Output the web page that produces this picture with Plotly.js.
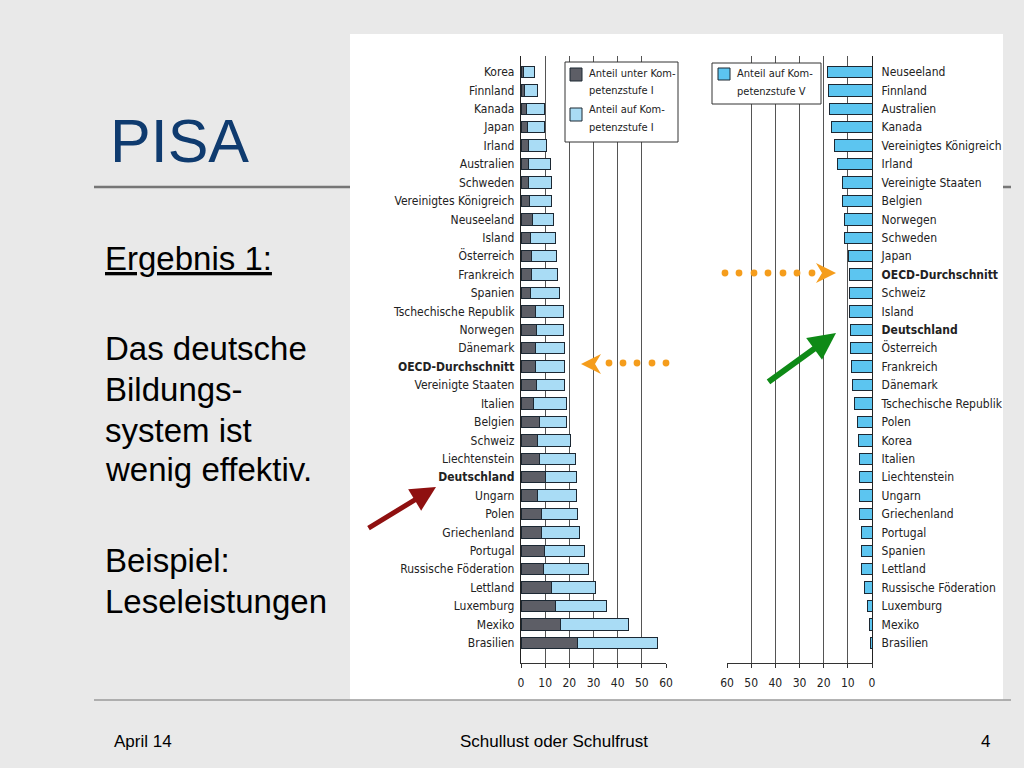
<!DOCTYPE html>
<html>
<head>
<meta charset="utf-8">
<script src="https://cdn.plot.ly/plotly-3.0.1.min.js"></script>
<style>html,body{margin:0;padding:0;background:#e9e9e9;}#chart{width:1024px;height:768px;}</style>
</head>
<body>
<div id="chart"></div>
<script>
// ---- Data (PISA 2000, Lesekompetenz) ----
var countriesLeft = ["Korea","Finnland","Kanada","Japan","Irland","Australien","Schweden","Vereinigtes Königreich","Neuseeland","Island","Österreich","Frankreich","Spanien","Tschechische Republik","Norwegen","Dänemark","OECD-Durchschnitt","Vereinigte Staaten","Italien","Belgien","Schweiz","Liechtenstein","Deutschland","Ungarn","Polen","Griechenland","Portugal","Russische Föderation","Lettland","Luxemburg","Mexiko","Brasilien"];
var unterStufe1 = [0.9,1.4,2.3,2.5,2.9,3.2,3.2,3.6,4.6,3.9,4.2,4.3,3.9,6.2,6.3,5.8,6.2,6.5,5.3,7.5,6.8,7.5,10.0,6.7,8.6,8.6,9.6,9.2,12.5,14.2,16.3,23.5];
var aufStufe1   = [4.8,5.3,7.3,7.4,7.8,9.0,9.3,8.9,9.0,10.4,10.5,10.8,12.2,11.3,11.3,12.1,11.7,11.4,13.7,11.5,13.8,14.9,12.8,16.1,14.7,15.8,16.7,18.6,18.2,21.1,28.1,32.8];

var countriesRight = ["Neuseeland","Finnland","Australien","Kanada","Vereinigtes Königreich","Irland","Vereinigte Staaten","Belgien","Norwegen","Schweden","Japan","OECD-Durchschnitt","Schweiz","Island","Deutschland","Österreich","Frankreich","Dänemark","Tschechische Republik","Polen","Korea","Italien","Liechtenstein","Ungarn","Griechenland","Portugal","Spanien","Lettland","Russische Föderation","Luxemburg","Mexiko","Brasilien"];
var aufStufe5 = [18.6,18.2,17.4,16.6,15.5,14.2,12.2,12.1,11.3,11.3,9.9,9.5,9.2,9.2,8.9,8.8,8.5,8.1,7.2,6.0,5.7,5.3,5.0,5.0,5.0,4.3,4.2,4.2,3.2,1.8,1.0,0.7];

var boldLabels = ["OECD-Durchschnitt","Deutschland"];
var xTicks = [0,10,20,30,40,50,60];

var legendLeft = ["Anteil unter Kom-","petenzstufe I","Anteil auf Kom-","petenzstufe I"];
var legendRight = ["Anteil auf Kom-","petenzstufe V"];

// ---- helpers (pixel -> paper) ----
function P(x){return x/1024;}
function Q(y){return 1-y/768;}
function lab(c){return boldLabels.indexOf(c)>=0 ? "<b>"+c+"</b>" : c;}

var NARROW = "DejaVu Sans Condensed, Liberation Sans Narrow, sans-serif";
var SANS = "Liberation Sans, Arial, Helvetica, sans-serif";
var OUT = "#1c2833";
var DARK = "#5d5e66", LIGHT = "#a9dcf5", BLUE = "#5cc5f0";

var traces = [
  {type:"bar", orientation:"h", y:countriesLeft, x:unterStufe1, xaxis:"x", yaxis:"y",
   marker:{color:DARK, line:{color:OUT, width:1}}, hoverinfo:"skip"},
  {type:"bar", orientation:"h", y:countriesLeft, x:aufStufe1, xaxis:"x", yaxis:"y",
   marker:{color:LIGHT, line:{color:OUT, width:1}}, hoverinfo:"skip"},
  {type:"bar", orientation:"h", y:countriesRight, x:aufStufe5, xaxis:"x2", yaxis:"y2",
   marker:{color:BLUE, line:{color:OUT, width:1}}, hoverinfo:"skip"}
];

var yDom = [Q(663), Q(56)];
var yRange = [32.09, -0.87];
var tickFont = {family:NARROW, size:12, color:"#222"};
var xAxisCommon = {
  tickmode:"array", tickvals:xTicks, ticktext:xTicks.map(String),
  showgrid:true, gridcolor:"#555", gridwidth:1, zeroline:false,
  showline:true, linecolor:"#333", linewidth:1,
  ticks:"outside", ticklen:4, tickcolor:"#333",
  ticklabelstandoff:5,
  tickfont:{family:NARROW, size:12, color:"#222"}, fixedrange:true
};

var shapes = [];
// slide decoration
shapes.push({type:"line", xref:"paper", yref:"paper", x0:P(94), x1:P(1011), y0:Q(187), y1:Q(187), line:{color:"#767676", width:2.5}, layer:"below"});
shapes.push({type:"rect", xref:"paper", yref:"paper", x0:P(350), x1:P(1003), y0:Q(700), y1:Q(34), fillcolor:"#ffffff", line:{width:0}, layer:"below"});
shapes.push({type:"line", xref:"paper", yref:"paper", x0:P(94), x1:P(1011), y0:Q(700), y1:Q(700), line:{color:"#9a9a9a", width:1.5}, layer:"below"});
// legend boxes
shapes.push({type:"rect", xref:"paper", yref:"paper", x0:P(565), x1:P(678), y0:Q(142), y1:Q(62), fillcolor:"#ffffff", line:{color:"#333", width:1}, layer:"above"});
shapes.push({type:"rect", xref:"paper", yref:"paper", x0:P(570), x1:P(582), y0:Q(81), y1:Q(68), fillcolor:DARK, line:{color:OUT, width:1}, layer:"above"});
shapes.push({type:"rect", xref:"paper", yref:"paper", x0:P(570), x1:P(582), y0:Q(121), y1:Q(108), fillcolor:LIGHT, line:{color:OUT, width:1}, layer:"above"});
shapes.push({type:"rect", xref:"paper", yref:"paper", x0:P(712), x1:P(821), y0:Q(104), y1:Q(63), fillcolor:"#ffffff", line:{color:"#333", width:1}, layer:"above"});
shapes.push({type:"rect", xref:"paper", yref:"paper", x0:P(718), x1:P(730), y0:Q(80), y1:Q(68), fillcolor:BLUE, line:{color:OUT, width:1}, layer:"above"});

// orange dotted arrows
var ORANGE = "#f59d1c";
function dot(cx, cy){
  var r = 3.4;
  shapes.push({type:"circle", xref:"paper", yref:"paper", x0:P(cx-r), x1:P(cx+r), y0:Q(cy+r), y1:Q(cy-r), fillcolor:ORANGE, line:{width:0}, layer:"above"});
}
[609,623,637,652,666].forEach(function(x){dot(x,363);});
[725,739,754,768,783,797,812].forEach(function(x){dot(x,273);});
function pathPx(pts){
  return "M"+pts.map(function(p){return P(p[0])+","+Q(p[1]);}).join("L")+"Z";
}
shapes.push({type:"path", xref:"paper", yref:"paper", path:pathPx([[581,364],[601,354],[595,364],[601,374]]), fillcolor:ORANGE, line:{width:0}, layer:"above"});
shapes.push({type:"path", xref:"paper", yref:"paper", path:pathPx([[836,273],[816,263],[822,273],[816,283]]), fillcolor:ORANGE, line:{width:0}, layer:"above"});

var annotations = [];
function txt(t, x, y, size, opts){
  var a = {text:t, xref:"paper", yref:"paper", x:P(x), y:Q(y), xanchor:"left", yanchor:"middle", showarrow:false,
           font:{family:SANS, size:size, color:"#000"}};
  for (var k in (opts||{})) a[k]=opts[k];
  annotations.push(a);
}
txt("PISA", 108, 141, 61, {font:{family:SANS, size:61, color:"#0f3b6f"}});
txt("<u>Ergebnis 1:</u>", 103, 259, 33);
txt("Das deutsche", 103, 348, 33);
txt("Bildungs-", 103, 389, 33);
txt("system ist", 103, 430, 33);
txt("wenig effektiv.", 103, 469, 33);
txt("Beispiel:", 103, 560, 33);
txt("Leseleistungen", 103, 601, 33);
txt("April 14", 112, 741, 17);
txt("Schullust oder Schulfrust", 554, 741, 17, {xanchor:"center"});
txt("4", 985, 741, 17, {xanchor:"center"});

// legend texts
var legFont = {family:NARROW, size:11, color:"#222"};
[[73,0],[90,1],[110,2],[128,3]].forEach(function(p){
  annotations.push({text:legendLeft[p[1]], xref:"paper", yref:"paper", x:P(587), y:Q(p[0]), xanchor:"left", yanchor:"middle", showarrow:false, font:legFont});
});
[[74,0],[91,1]].forEach(function(p){
  annotations.push({text:legendRight[p[1]], xref:"paper", yref:"paper", x:P(735), y:Q(p[0]), xanchor:"left", yanchor:"middle", showarrow:false, font:legFont});
});

// red and green arrows
annotations.push({text:"", xref:"paper", yref:"paper", x:P(436), y:Q(487), ax:-69, ay:42, axref:"pixel", ayref:"pixel",
  showarrow:true, arrowhead:2, arrowsize:1, arrowwidth:5, arrowcolor:"#8f1010", standoff:0});
annotations.push({text:"", xref:"paper", yref:"paper", x:P(836), y:Q(333), ax:-69, ay:50, axref:"pixel", ayref:"pixel",
  showarrow:true, arrowhead:2, arrowsize:0.9, arrowwidth:6, arrowcolor:"#0e8a16", standoff:0});

var layout = {
  width:1024, height:768, margin:{l:0,r:0,t:0,b:0,pad:0},
  paper_bgcolor:"#e9e9e9", plot_bgcolor:"#ffffff",
  showlegend:false, barmode:"stack", bargap:0.38,
  xaxis: Object.assign({}, xAxisCommon, {domain:[P(521), P(666)], range:[0,60], anchor:"y"}),
  yaxis: {domain:yDom, anchor:"x", range:yRange, type:"category",
          categoryorder:"array", categoryarray:countriesLeft,
          tickmode:"array", tickvals:countriesLeft, ticktext:countriesLeft.map(lab),
          showgrid:false, zeroline:false, showline:true, linecolor:"#222", linewidth:1.2,
          ticks:"", ticklabelstandoff:3, tickfont:tickFont, fixedrange:true},
  xaxis2: Object.assign({}, xAxisCommon, {domain:[P(727), P(872)], range:[60,0], anchor:"y2"}),
  yaxis2: {domain:yDom, anchor:"x2", side:"right", range:yRange, type:"category",
          categoryorder:"array", categoryarray:countriesRight,
          tickmode:"array", tickvals:countriesRight, ticktext:countriesRight.map(lab),
          showgrid:false, zeroline:false, showline:true, linecolor:"#222", linewidth:1.2,
          ticks:"", ticklabelstandoff:6, tickfont:tickFont, fixedrange:true},
  shapes:shapes, annotations:annotations
};

Plotly.newPlot("chart", traces, layout, {displayModeBar:false, staticPlot:true});
</script>
</body>
</html>
